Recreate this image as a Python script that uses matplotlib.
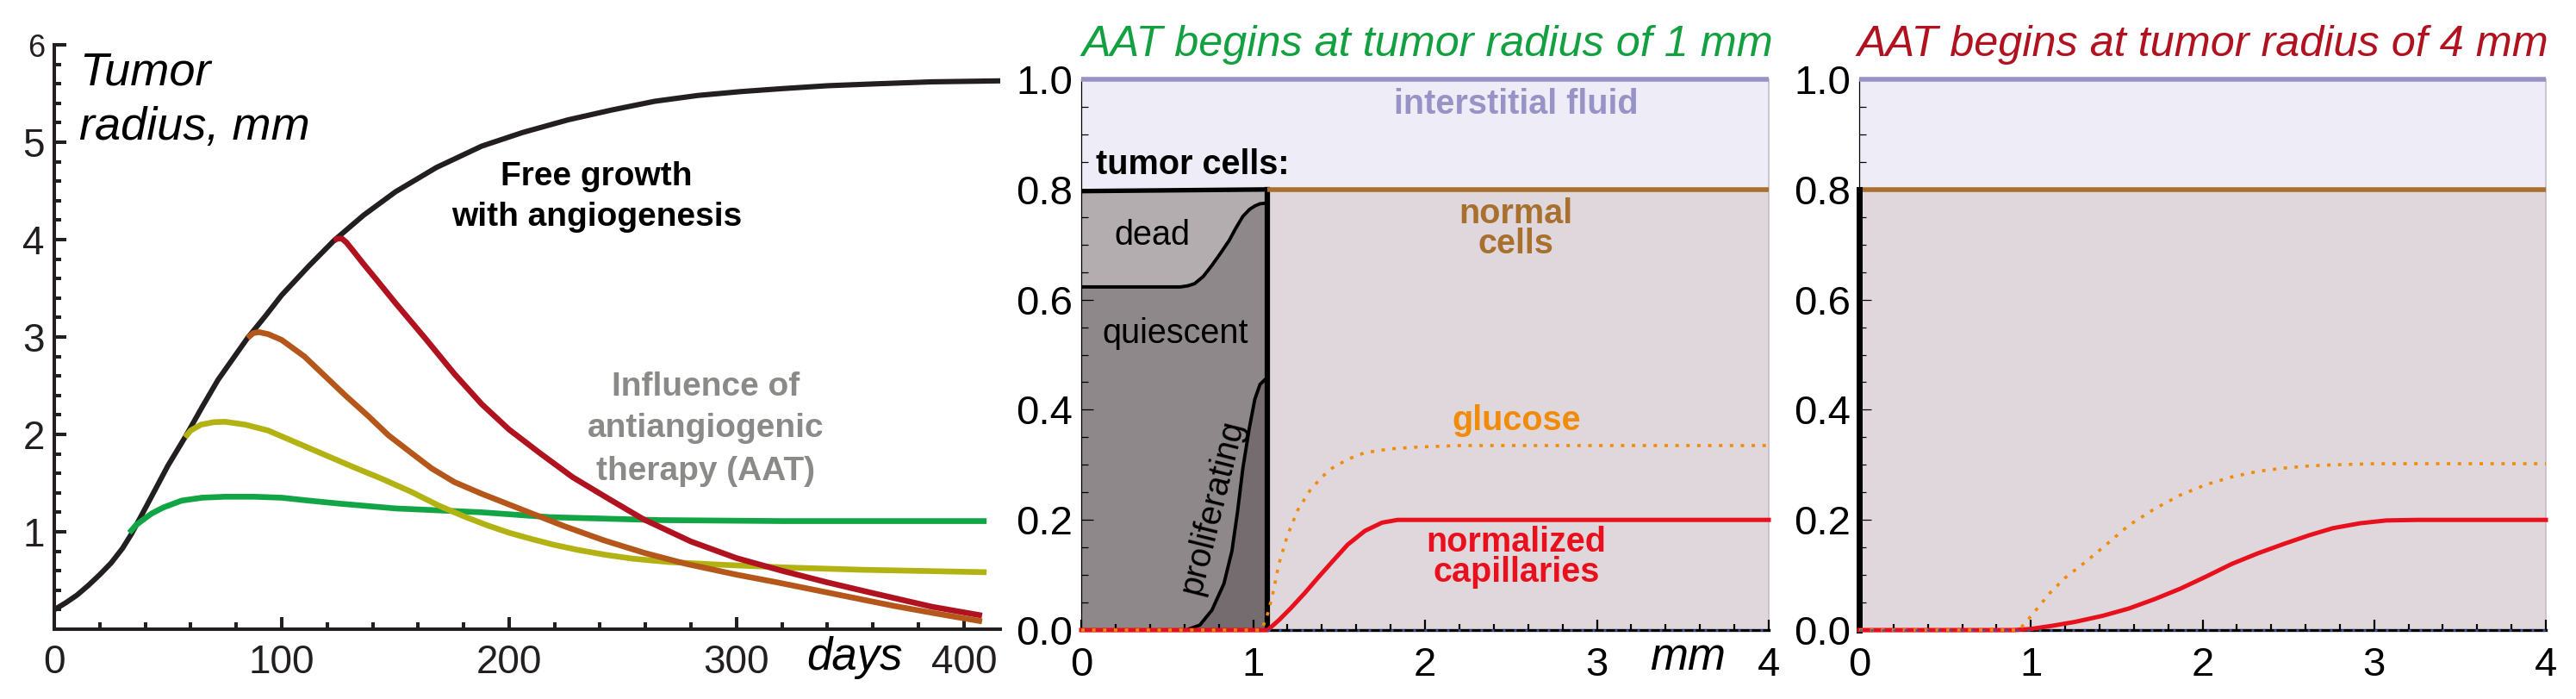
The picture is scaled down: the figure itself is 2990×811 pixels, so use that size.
import numpy as np
import matplotlib
matplotlib.use("Agg")
import matplotlib.pyplot as plt
from matplotlib.ticker import MultipleLocator, FixedLocator

plt.rcParams['font.family'] = ['Liberation Sans', 'DejaVu Sans']

# ---------------- Panel 1: tumor radius vs days ----------------
free_days = [0, 5, 10, 15, 20, 25, 30, 34, 40, 50, 58, 65, 72, 85, 93, 100, 112, 123, 136, 150,
             168, 188, 206, 226, 245, 264, 283, 302, 320, 340, 362, 386, 416]
free_r = [0.2, 0.27, 0.35, 0.45, 0.56, 0.68, 0.83, 0.98, 1.24, 1.68, 1.99, 2.28, 2.56, 2.99, 3.22,
          3.43, 3.73, 3.99, 4.25, 4.49, 4.74, 4.96, 5.1, 5.23, 5.33, 5.42, 5.48, 5.52, 5.55,
          5.58, 5.6, 5.62, 5.63]

aat1_days = [33, 36, 40, 43, 48, 56, 65, 75, 88, 100, 112, 125, 150, 188, 218, 266, 320, 410]
aat1_r = [0.99, 1.07, 1.14, 1.19, 1.25, 1.32, 1.35, 1.36, 1.36, 1.35, 1.32, 1.29, 1.24,
          1.20, 1.15, 1.12, 1.11, 1.11]

aat2_days = [57.5, 60, 64.5, 70, 75, 84, 94, 106, 119, 131, 144, 157, 169, 180, 190, 200,
             210, 220, 230, 242, 254, 270, 290, 320, 355, 410]
aat2_r = [1.97, 2.04, 2.10, 2.125, 2.13, 2.1, 2.04, 1.92, 1.79, 1.67, 1.545, 1.41, 1.27, 1.16,
          1.07, 0.99, 0.925, 0.865, 0.815, 0.765, 0.725, 0.69, 0.665, 0.635, 0.61, 0.585]

aat3_days = [85, 87.5, 90, 94, 100, 110, 119, 128, 138, 147, 157, 166, 176, 188, 200, 212,
             224, 242, 260, 278, 300, 318, 335, 352, 369, 388, 408]
aat3_r = [2.99, 3.04, 3.05, 3.03, 2.97, 2.8, 2.60, 2.40, 2.19, 1.99, 1.81, 1.65, 1.51, 1.39,
          1.28, 1.17, 1.06, 0.91, 0.78, 0.67, 0.56, 0.48, 0.40, 0.32, 0.24, 0.16, 0.08]

aat4_days = [123, 124.5, 126.5, 128.5, 131.6, 136, 142, 150, 163, 176, 188, 200, 214, 228, 243,
             259, 280, 300, 320, 340, 360, 386, 408]
aat4_r = [3.99, 4.01, 4.01, 3.97, 3.88, 3.75, 3.58, 3.35, 2.99, 2.62, 2.31, 2.05, 1.80, 1.56,
          1.35, 1.13, 0.9, 0.73, 0.6, 0.48, 0.37, 0.23, 0.14]

p1_xticks = [0, 100, 200, 300, 400]
p1_xlabels = ['0', '100', '200', '300', '400']
p1_yticks = [1, 2, 3, 4, 5, 6]
p1_ylabels = ['1', '2', '3', '4', '5', '6']

# ---------------- Panel 2: AAT at 1 mm ----------------
tumor_edge_2 = 1.085
top_x = [0, 1.085]
top_y = [0.797, 0.8]
dead_x = [0, 0.576, 0.62, 0.66, 0.71, 0.76, 0.81, 0.86, 0.90, 0.94, 0.98, 1.01, 1.04, 1.07, 1.085]
dead_y = [0.623, 0.623, 0.625, 0.629, 0.642, 0.662, 0.684, 0.707, 0.730, 0.751, 0.764, 0.770,
          0.774, 0.775, 0.776]
prolif_x = [0, 0.61, 0.69, 0.76, 0.83, 0.877, 0.91, 0.94, 0.977, 1.01, 1.04, 1.07, 1.085]
prolif_y = [0, 0, 0.009, 0.036, 0.084, 0.144, 0.216, 0.293, 0.365, 0.419, 0.446, 0.455, 0.456]

gluc2_x = [0, 1.05, 1.085, 1.11, 1.15, 1.2, 1.26, 1.33, 1.40, 1.46, 1.55, 1.65, 1.8, 1.94, 2.2, 4.0]
gluc2_y = [0, 0, 0.03, 0.059, 0.12, 0.172, 0.218, 0.253, 0.278, 0.294, 0.310, 0.322, 0.329,
           0.332, 0.335, 0.335]
cap2_x = [0, 1.0, 1.085, 1.15, 1.22, 1.30, 1.38, 1.46, 1.55, 1.65, 1.75, 1.84, 4.0]
cap2_y = [0, 0, 0, 0.018, 0.04, 0.067, 0.096, 0.124, 0.155, 0.18, 0.195, 0.2, 0.2]

# ---------------- Panel 3: AAT at 4 mm ----------------
gluc3_x = [0, 0.93, 1.0, 1.11, 1.2, 1.32, 1.45, 1.57, 1.72, 1.87, 2.02, 2.17, 2.32, 2.47,
           2.62, 2.76, 3.0, 4.0]
gluc3_y = [0, 0, 0.025, 0.067, 0.095, 0.124, 0.158, 0.19, 0.22, 0.245, 0.264, 0.278, 0.288,
           0.294, 0.298, 0.3, 0.302, 0.302]
cap3_x = [0, 0.9, 1.0, 1.13, 1.26, 1.42, 1.57, 1.72, 1.87, 2.02, 2.17, 2.32, 2.47, 2.62,
          2.76, 2.92, 3.07, 3.25, 4.0]
cap3_y = [0, 0, 0.002, 0.008, 0.015, 0.026, 0.039, 0.056, 0.075, 0.097, 0.12, 0.139, 0.156,
          0.172, 0.185, 0.194, 0.199, 0.2, 0.2]

r_xticks = [0, 1, 2, 3, 4]
r_xlabels = ['0', '1', '2', '3', '4']
r_yticks = [0.0, 0.2, 0.4, 0.6, 0.8, 1.0]
r_ylabels = ['0.0', '0.2', '0.4', '0.6', '0.8', '1.0']

# ---------------- colours ----------------
C_BLACK = '#231f20'
C_GREEN = '#12a545'
C_YELLOW = '#b2b312'
C_ORANGE = '#b5561b'
C_RED = '#b0121f'
C_GREY_TXT = '#8a8a88'
C_LAV = '#eeecf6'
C_MAUVE = '#e0d7dd'
C_PURPLE = '#9893c6'
C_BROWN = '#a8702e'
C_GLUC = '#f08c0a'
C_CAP = '#e8101c'
C_DEAD = '#b3adaf'
C_QUI = '#8f888b'
C_PRO = '#746c6f'
C_BLUE = '#3a56b0'
C_TITLE1 = '#12a040'
C_TITLE2 = '#b0121f'

W, H = 2990, 811
fig = plt.figure(figsize=(W / 100, H / 100), dpi=100)


def px_axes(left, right, top, bottom):
    return fig.add_axes([left / W, 1 - bottom / H, (right - left) / W, (bottom - top) / H])


# ===================== Panel 1 =====================
ax1 = px_axes(63, 1161, 52, 730)
ax1.set_xlim(0, 416)
ax1.set_ylim(0, 6)
lw1 = 4.4
ax1.plot(free_days, free_r, color=C_BLACK, lw=lw1, solid_capstyle='butt', zorder=3)
for d, r, c in [(aat1_days, aat1_r, C_GREEN), (aat2_days, aat2_r, C_YELLOW),
                (aat3_days, aat3_r, C_ORANGE), (aat4_days, aat4_r, C_RED)]:
    ax1.plot(d, r, color=c, lw=lw1 + 0.4, solid_capstyle='butt', solid_joinstyle='round',
             zorder=4)
for s in ['top', 'right']:
    ax1.spines[s].set_visible(False)
for s in ['left', 'bottom']:
    ax1.spines[s].set_linewidth(2.9)
    ax1.spines[s].set_color(C_BLACK)
ax1.xaxis.set_major_locator(FixedLocator(p1_xticks))
ax1.set_xticklabels(p1_xlabels)
ax1.xaxis.set_minor_locator(MultipleLocator(20))
ax1.yaxis.set_major_locator(FixedLocator(p1_yticks))
ax1.set_yticklabels(p1_ylabels)
ax1.yaxis.set_minor_locator(MultipleLocator(0.2))
ax1.tick_params(which='major', direction='in', length=10, width=2.9, color=C_BLACK,
                labelsize=33, labelcolor=C_BLACK)
ax1.tick_params(which='minor', direction='in', length=5.5, width=2.9, color=C_BLACK)
ax1.tick_params(axis='x', which='major', pad=12)
ax1.tick_params(axis='y', which='major', pad=8)
ax1.get_yticklabels()[-1].set_fontsize(26)

ax1.text(11, 5.59, 'Tumor', fontsize=39, style='italic', ha='left', va='baseline', color='black')
ax1.text(11, 5.03, 'radius, mm', fontsize=39, style='italic', ha='left', va='baseline', color='black')
ax1.text(238.5, 4.555, 'Free growth', fontsize=28, fontweight='bold', ha='center', va='baseline')
ax1.text(238.5, 4.14, 'with angiogenesis', fontsize=28, fontweight='bold', ha='center', va='baseline')
ax1.text(286.5, 2.40, 'Influence of', fontsize=28, fontweight='bold', ha='center', va='baseline',
         color=C_GREY_TXT)
ax1.text(286.5, 1.97, 'antiangiogenic', fontsize=28, fontweight='bold', ha='center', va='baseline',
         color=C_GREY_TXT)
ax1.text(286.5, 1.535, 'therapy (AAT)', fontsize=28, fontweight='bold', ha='center', va='baseline',
         color=C_GREY_TXT)
ax1.text(352, -0.42, 'days', fontsize=38, style='italic', ha='center', va='baseline', clip_on=False)


def setup_right(ax):
    ax.set_xlim(0, 4)
    ax.set_ylim(0, 1)
    for s in ['top', 'right']:
        ax.spines[s].set_visible(False)
    ax.spines['left'].set_linewidth(0.9)
    ax.spines['left'].set_color('black')
    ax.spines['bottom'].set_linewidth(2.4)
    ax.spines['bottom'].set_color('black')
    ax.xaxis.set_major_locator(FixedLocator(r_xticks))
    ax.set_xticklabels(r_xlabels)
    ax.xaxis.set_minor_locator(MultipleLocator(0.2))
    ax.yaxis.set_major_locator(FixedLocator(r_yticks))
    ax.set_yticklabels(r_ylabels)
    ax.yaxis.set_minor_locator(MultipleLocator(0.05))
    ax.tick_params(axis='x', which='major', direction='in', length=9, width=1.6, pad=14,
                   labelsize=34, color='black')
    ax.tick_params(axis='x', which='minor', direction='in', length=5, width=1.6, color='black')
    ax.tick_params(axis='y', which='major', direction='in', length=10, width=0.9, pad=7,
                   labelsize=34, color='black')
    ax.tick_params(axis='y', which='minor', direction='in', length=6, width=0.9, color='black')
    # background regions
    ax.axhspan(0.8, 1.0, color=C_LAV, lw=0, zorder=0)
    ax.plot([0, 4], [1.0, 1.0], color=C_PURPLE, lw=4, clip_on=False, zorder=3,
            solid_capstyle='butt')
    ax.plot([4, 4], [0, 1], color='#c9bcc5', lw=1.2, clip_on=False, zorder=1)


# ===================== Panel 2 =====================
ax2 = px_axes(1255, 2053, 92, 731)
setup_right(ax2)
ax2.fill([tumor_edge_2, 4, 4, tumor_edge_2], [0, 0, 0.8, 0.8], color=C_MAUVE, lw=0, zorder=0)
# tumor compartments
ax2.fill(list(dead_x) + top_x[::-1], list(dead_y) + top_y[::-1], color=C_DEAD, lw=0, zorder=1)
ax2.fill(list(prolif_x) + dead_x[::-1], list(prolif_y) + dead_y[::-1], color=C_QUI, lw=0, zorder=1)
ax2.fill(list(prolif_x) + [tumor_edge_2, 0], list(prolif_y) + [0, 0], color=C_PRO, lw=0, zorder=1)
ax2.plot(dead_x, dead_y, color='black', lw=2.8, zorder=2)
ax2.plot(prolif_x, prolif_y, color='black', lw=2.8, zorder=2)
ax2.plot(top_x, top_y, color='black', lw=3.8, zorder=3, solid_capstyle='butt')
ax2.plot([tumor_edge_2, tumor_edge_2], [0, 0.8], color='black', lw=4.5, zorder=3,
         solid_capstyle='projecting')
ax2.plot([tumor_edge_2, 4], [0.8, 0.8], color=C_BROWN, lw=4, zorder=3, solid_capstyle='butt')
ax2.plot(cap2_x, cap2_y, color=C_CAP, lw=3.6, zorder=4, clip_on=False)
ax2.plot(gluc2_x, gluc2_y, color=C_GLUC, lw=2.6, ls=(0, (1.1, 2.4)), zorder=4, clip_on=False)
ax2.plot([tumor_edge_2, 4], [0, 0], color=C_BLUE, lw=1.8, ls=(0, (1.2, 4.0)), zorder=5,
         clip_on=False)

ax2.text(2.53, 0.937, 'interstitial fluid', fontsize=28.5, fontweight='bold', color=C_PURPLE,
         ha='center', va='baseline')
ax2.text(0.085, 0.828, 'tumor cells:', fontsize=28.5, fontweight='bold', color='black',
         ha='left', va='baseline')
ax2.text(0.414, 0.70, 'dead', fontsize=28.5, color='black', ha='center', va='baseline', zorder=6)
ax2.text(0.546, 0.521, 'quiescent', fontsize=28.5, color='black', ha='center', va='baseline', zorder=6)
ax2.text(0.76, 0.224, 'proliferating', fontsize=28.5, color='black', ha='center', va='center',
         rotation=76, rotation_mode='anchor', zorder=6)
ax2.text(2.527, 0.739, 'normal', fontsize=28.5, fontweight='bold', color=C_BROWN, ha='center',
         va='baseline')
ax2.text(2.527, 0.684, 'cells', fontsize=28.5, fontweight='bold', color=C_BROWN, ha='center',
         va='baseline')
ax2.text(2.53, 0.363, 'glucose', fontsize=28.5, fontweight='bold', color=C_GLUC, ha='center',
         va='baseline')
ax2.text(2.53, 0.142, 'normalized', fontsize=28.5, fontweight='bold', color=C_CAP, ha='center',
         va='baseline')
ax2.text(2.53, 0.0875, 'capillaries', fontsize=28.5, fontweight='bold', color=C_CAP, ha='center',
         va='baseline')
ax2.text(3.53, -0.072, 'mm', fontsize=38, style='italic', ha='center', va='baseline', clip_on=False)
ax2.text(0.0, 1.042, 'AAT begins at tumor radius of 1 mm', fontsize=36.3, style='italic',
         color=C_TITLE1, ha='left', va='baseline', clip_on=False)

# ===================== Panel 3 =====================
ax3 = px_axes(2158, 2955, 92, 731)
setup_right(ax3)
ax3.fill([0, 4, 4, 0], [0, 0, 0.8, 0.8], color=C_MAUVE, lw=0, zorder=0)
ax3.plot([0, 4], [0.8, 0.8], color=C_BROWN, lw=4, zorder=3, solid_capstyle='butt')
ax3.plot([0, 0], [0, 0.8], color='black', lw=5, zorder=4, clip_on=False,
         solid_capstyle='projecting')
ax3.plot(cap3_x, cap3_y, color=C_CAP, lw=3.6, zorder=4, clip_on=False)
ax3.plot(gluc3_x, gluc3_y, color=C_GLUC, lw=2.6, ls=(0, (1.1, 2.4)), zorder=4, clip_on=False)
ax3.plot([0, 4], [0, 0], color=C_BLUE, lw=1.8, ls=(0, (1.2, 4.0)), zorder=5, clip_on=False)
ax3.text(-0.015, 1.042, 'AAT begins at tumor radius of 4 mm', fontsize=36.3, style='italic',
         color=C_TITLE2, ha='left', va='baseline', clip_on=False)

fig.savefig('out.png', dpi=100)
